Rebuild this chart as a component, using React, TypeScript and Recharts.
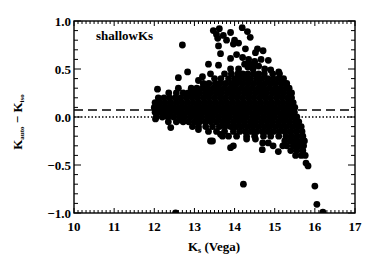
import { ScatterChart, Scatter, XAxis, YAxis, ReferenceLine, Customized } from "recharts";

// axis ticks
const KS_TICKS = [10, 11, 12, 13, 14, 15, 16, 17];
const DK_TICKS = [-1, -0.5, 0, 0.5, 1];
const KS_MINOR = Array.from({ length: 69 }, (_, i) => (101 + i) / 10).filter((v) => !KS_TICKS.includes(v));
const DK_MINOR = Array.from({ length: 19 }, (_, i) => (i - 9) / 10).filter((v) => !DK_TICKS.includes(v));
const KS_DOMAIN: [number, number] = [10, 17];
const DK_DOMAIN: [number, number] = [-1, 1];

const MEDIAN_OFFSET = 0.073; // dashed line
const ZERO_LINE = 0;

// dense core of the cloud, read row by row (dK level -> Ks positions)
const CORE_ROWS: { dk: number; ks: number[] }[] = [
  { dk: 0.45, ks: [13.92, 14.08, 14.2, 14.33, 14.47, 14.6, 14.74, 14.95, 15.12] },
  { dk: 0.4, ks: [13.5, 13.66, 13.85, 14.0, 14.13, 14.27, 14.4, 14.55, 14.68, 14.82, 14.96, 15.1, 15.22] },
  { dk: 0.35, ks: [13.22, 13.36, 13.52, 13.64, 13.78, 13.93, 14.06, 14.2, 14.34, 14.48, 14.62, 14.76, 14.9, 15.03, 15.17, 15.3] },
  { dk: 0.3, ks: [12.92, 13.06, 13.2, 13.33, 13.47, 13.61, 13.75, 13.89, 14.03, 14.17, 14.31, 14.45, 14.59, 14.73, 14.87, 15.01, 15.15, 15.29, 15.36] },
  { dk: 0.25, ks: [12.55, 12.72, 12.85, 12.99, 13.13, 13.27, 13.4, 13.54, 13.68, 13.82, 13.96, 14.1, 14.24, 14.38, 14.52, 14.66, 14.8, 14.94, 15.08, 15.22, 15.36, 15.42] },
  { dk: 0.2, ks: [12.1, 12.24, 12.38, 12.52, 12.66, 12.8, 12.94, 13.08, 13.22, 13.36, 13.5, 13.64, 13.78, 13.92, 14.06, 14.2, 14.34, 14.48, 14.62, 14.76, 14.9, 15.04, 15.18, 15.32, 15.42] },
  { dk: 0.15, ks: [12.02, 12.13, 12.27, 12.41, 12.55, 12.69, 12.83, 12.97, 13.11, 13.25, 13.39, 13.53, 13.67, 13.81, 13.95, 14.09, 14.23, 14.37, 14.51, 14.65, 14.79, 14.93, 15.07, 15.21, 15.35, 15.46] },
  { dk: 0.1, ks: [12.0, 12.1, 12.2, 12.34, 12.48, 12.62, 12.76, 12.9, 13.04, 13.18, 13.32, 13.46, 13.6, 13.74, 13.88, 14.02, 14.16, 14.3, 14.44, 14.58, 14.72, 14.86, 15.0, 15.14, 15.28, 15.42, 15.5] },
  { dk: 0.05, ks: [12.02, 12.13, 12.27, 12.41, 12.55, 12.69, 12.83, 12.97, 13.11, 13.25, 13.39, 13.53, 13.67, 13.81, 13.95, 14.09, 14.23, 14.37, 14.51, 14.65, 14.79, 14.93, 15.07, 15.21, 15.35, 15.49] },
  { dk: 0.0, ks: [12.05, 12.2, 12.34, 12.48, 12.62, 12.76, 12.9, 13.04, 13.18, 13.32, 13.46, 13.6, 13.74, 13.88, 14.02, 14.16, 14.3, 14.44, 14.58, 14.72, 14.86, 15.0, 15.14, 15.28, 15.42, 15.55] },
  { dk: -0.05, ks: [12.35, 12.55, 12.72, 12.86, 13.0, 13.13, 13.27, 13.41, 13.55, 13.69, 13.83, 13.97, 14.11, 14.25, 14.39, 14.53, 14.67, 14.81, 14.95, 15.09, 15.23, 15.37, 15.51, 15.6] },
  { dk: -0.1, ks: [12.95, 13.1, 13.28, 13.45, 13.62, 13.76, 13.9, 14.04, 14.18, 14.32, 14.46, 14.6, 14.74, 14.88, 15.02, 15.16, 15.3, 15.44, 15.58, 15.66] },
  { dk: -0.15, ks: [13.35, 13.55, 13.75, 13.97, 14.13, 14.27, 14.41, 14.55, 14.69, 14.83, 14.97, 15.11, 15.25, 15.39, 15.53, 15.68] },
  { dk: -0.2, ks: [13.85, 14.05, 14.3, 14.5, 14.72, 14.9, 15.1, 15.28, 15.42, 15.56, 15.7] },
  { dk: -0.25, ks: [15.25, 15.39, 15.53, 15.67, 15.74] },
  { dk: -0.3, ks: [15.3, 15.46, 15.6, 15.72] },
  { dk: -0.35, ks: [15.4, 15.55, 15.7] },
  { dk: -0.4, ks: [15.52, 15.66, 15.76] },
];

// sparse upper tail (Ks, dK)
const UPPER_TAIL: [number, number][] = [
  [12.08, 0.29], [12.36, 0.25], [12.6, 0.3], [12.6, 0.41], [12.83, 0.47], [12.7, 0.75],
  [13.1, 0.38], [13.2, 0.42], [13.35, 0.55], [13.6, 0.54], [13.4, 0.45], [13.9, 0.5], [13.75, 0.45],
  [13.47, 0.9], [13.55, 0.86], [13.62, 0.92], [13.58, 0.82], [13.72, 0.85], [13.9, 0.88], [13.8, 0.8],
  [14.19, 0.93], [14.32, 0.89], [14.39, 0.83], [14.0, 0.8], [14.1, 0.77], [13.6, 0.74], [13.97, 0.76],
  [14.27, 0.71], [14.52, 0.67], [14.57, 0.71], [14.71, 0.69], [14.84, 0.59], [14.66, 0.6], [13.65, 0.66],
  [13.9, 0.61], [14.05, 0.65], [14.2, 0.62], [14.35, 0.6], [14.5, 0.58], [14.25, 0.55], [14.38, 0.55],
  [14.52, 0.54], [14.33, 0.52], [14.46, 0.5], [14.6, 0.53], [14.75, 0.5], [14.9, 0.49], [15.1, 0.47],
  [14.1, 0.5], [15.25, 0.35],
];

// sparse lower edge and outliers (Ks, dK)
const LOWER_TAIL: [number, number][] = [
  [12.03, -0.02], [12.41, -0.11], [12.66, -0.03], [13.1, -0.13], [13.4, -0.25], [13.45, -0.25],
  [13.7, -0.2], [13.65, -0.18], [13.9, -0.32], [13.97, -0.3], [14.3, -0.23], [14.52, -0.23],
  [14.69, -0.34], [14.7, -0.27], [14.84, -0.27], [14.96, -0.3], [15.09, -0.36], [15.2, -0.3],
  [14.22, -0.7], [15.83, -0.51], [15.78, -0.48], [16.0, -0.72], [16.05, -0.91], [16.2, -0.99],
  [12.53, -1.0],
];

const points = [
  ...CORE_ROWS.flatMap((r) => r.ks.map((ks) => ({ ks, dk: r.dk }))),
  ...UPPER_TAIL.map(([ks, dk]) => ({ ks, dk })),
  ...LOWER_TAIL.map(([ks, dk]) => ({ ks, dk })),
];

const FONT = "'Liberation Serif', serif";
const INK = "#000";
const fmt = (v: number) => (v < 0 ? "\u2212" : "") + Math.abs(v).toFixed(1);

// chart box; the plot area follows from margins + 1px axis sizes
const W = 374, H = 266;
const MARGIN = { top: 21, right: 19, bottom: 52, left: 73 };
const BOX = { x0: MARGIN.left + 1, x1: W - MARGIN.right, y0: MARGIN.top, y1: H - MARGIN.bottom - 1 };
const px = (v: number) => BOX.x0 + ((v - KS_DOMAIN[0]) / (KS_DOMAIN[1] - KS_DOMAIN[0])) * (BOX.x1 - BOX.x0);
const py = (v: number) => BOX.y1 - ((v - DK_DOMAIN[0]) / (DK_DOMAIN[1] - DK_DOMAIN[0])) * (BOX.y1 - BOX.y0);

const Dot = (p: any) => <circle cx={p.cx} cy={p.cy} r={3.4} fill={INK} />;

// IDL-style frame with inward ticks on all four sides
const Frame = () => {
  const xt = (v: number, len: number) => (
    <g key={`x${v}`}>
      <line x1={px(v)} x2={px(v)} y1={BOX.y1} y2={BOX.y1 - len} />
      <line x1={px(v)} x2={px(v)} y1={BOX.y0} y2={BOX.y0 + len} />
    </g>
  );
  const yt = (v: number, len: number) => (
    <g key={`y${v}`}>
      <line x1={BOX.x0} x2={BOX.x0 + len} y1={py(v)} y2={py(v)} />
      <line x1={BOX.x1} x2={BOX.x1 - len} y1={py(v)} y2={py(v)} />
    </g>
  );
  return (
    <g stroke={INK} strokeWidth={1} fill="none">
      {KS_TICKS.map((v) => xt(v, 5))}
      {KS_MINOR.map((v) => xt(v, 3))}
      {DK_TICKS.map((v) => yt(v, 7))}
      {DK_MINOR.map((v) => yt(v, 4))}
      <rect x={BOX.x0} y={BOX.y0} width={BOX.x1 - BOX.x0} height={BOX.y1 - BOX.y0} strokeWidth={1.4} />
    </g>
  );
};

const Texts = () => (
  <g fontFamily={FONT} fontWeight="bold" fill={INK}>
    <text x={96} y={40} fontSize={13}>shallowKs</text>
    <text x={214} y={251} fontSize={13} textAnchor="middle">
      K<tspan fontSize={8} dy={2}>s</tspan>
      <tspan dy={-2}> (Vega)</tspan>
    </text>
    <text x={0} y={0} fontSize={13} textAnchor="middle" transform="translate(22,122) rotate(-90)">
      K<tspan fontSize={7} dy={2}>auto</tspan>
      <tspan dy={-2}> {"\u2212"} K</tspan>
      <tspan fontSize={7} dy={2}>iso</tspan>
    </text>
  </g>
);

const tickFont = { fontFamily: FONT, fontSize: 13, fontWeight: "bold", fill: INK };

export default function App() {
  return (
    <div style={{ position: "absolute", left: 0, top: 0, width: W, height: H, background: "#fff" }}>
      <ScatterChart width={W} height={H} margin={MARGIN}>
        <XAxis xAxisId="b" type="number" dataKey="ks" domain={KS_DOMAIN} allowDataOverflow height={1}
          ticks={KS_TICKS} tickSize={0} tickMargin={9} tickLine={false} axisLine={false}
          tick={tickFont} interval={0} />
        <YAxis yAxisId="l" type="number" dataKey="dk" domain={DK_DOMAIN} allowDataOverflow width={1}
          ticks={DK_TICKS} tickSize={0} tickMargin={3} tickLine={false} axisLine={false}
          tick={tickFont} tickFormatter={fmt} interval={0} />

        <ReferenceLine xAxisId="b" yAxisId="l" y={MEDIAN_OFFSET} stroke={INK} strokeWidth={1.4} strokeDasharray="9 5" />
        <ReferenceLine xAxisId="b" yAxisId="l" y={ZERO_LINE} stroke={INK} strokeWidth={1.4} strokeDasharray="1.5 2" />

        <Scatter xAxisId="b" yAxisId="l" data={points} shape={Dot} isAnimationActive={false} />
        <Customized component={Frame} />
        <Customized component={Texts} />
      </ScatterChart>
    </div>
  );
}
